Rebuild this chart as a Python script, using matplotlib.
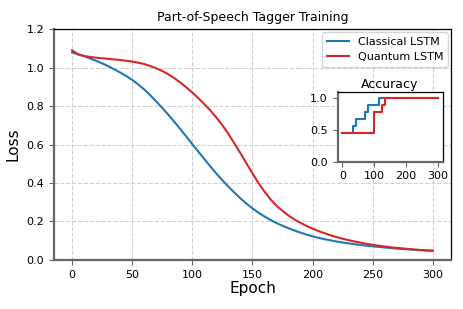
import matplotlib
matplotlib.use("Agg")
import matplotlib.pyplot as plt

epochs = list(range(0, 301, 5))
classical_loss = [1.078, 1.069, 1.059, 1.047, 1.035, 1.022, 1.007, 0.991, 0.974, 0.956,
                  0.936, 0.912, 0.886, 0.856, 0.824, 0.790, 0.755, 0.718, 0.680, 0.641,
                  0.602, 0.563, 0.524, 0.486, 0.449, 0.414, 0.381, 0.350, 0.320, 0.293,
                  0.268, 0.246, 0.226, 0.208, 0.192, 0.178, 0.165, 0.153, 0.142, 0.132,
                  0.123, 0.115, 0.108, 0.102, 0.096, 0.091, 0.086, 0.082, 0.078, 0.074,
                  0.071, 0.068, 0.065, 0.062, 0.059, 0.057, 0.055, 0.053, 0.051, 0.049,
                  0.048]
quantum_loss = [1.090, 1.068, 1.060, 1.055, 1.051, 1.048, 1.045, 1.042, 1.039, 1.035,
                1.031, 1.025, 1.018, 1.008, 0.996, 0.982, 0.965, 0.945, 0.922, 0.897,
                0.870, 0.841, 0.810, 0.777, 0.740, 0.700, 0.655, 0.605, 0.555, 0.502,
                0.450, 0.400, 0.355, 0.315, 0.282, 0.255, 0.231, 0.210, 0.193, 0.177,
                0.163, 0.150, 0.139, 0.128, 0.119, 0.110, 0.103, 0.096, 0.090, 0.084,
                0.079, 0.074, 0.070, 0.066, 0.063, 0.060, 0.057, 0.054, 0.052, 0.050,
                0.048]

# accuracy change points (step, held until next epoch)
acc_epochs_c = [0, 35, 43, 72, 80, 114, 300]
acc_classical = [0.444, 0.556, 0.667, 0.778, 0.889, 1.0, 1.0]
acc_epochs_q = [0, 99, 125, 134, 300]
acc_quantum = [0.444, 0.778, 0.889, 1.0, 1.0]

blue = "#1f77b4"
red = "#d62728"


def style_spines(ax):
    for s in ("left", "bottom"):
        ax.spines[s].set_color("#666666")
        ax.spines[s].set_linewidth(1.6)
    for s in ("top", "right"):
        ax.spines[s].set_color("black")
        ax.spines[s].set_linewidth(0.9)
    ax.tick_params(color="#666666", labelsize=8)


fig = plt.figure(figsize=(4.63, 3.09), dpi=100)
ax = fig.add_axes([0.1166, 0.1586, 0.8574, 0.7475])
ax.plot(epochs, classical_loss, color=blue, lw=1.5, label="Classical LSTM")
ax.plot(epochs, quantum_loss, color=red, lw=1.5, label="Quantum LSTM")
ax.set_ylim(0, 1.2)
ax.set_xticks([0, 50, 100, 150, 200, 250, 300])
ax.grid(True, ls="--", color="#d0d0d0", lw=0.8)
ax.set_axisbelow(True)
ax.set_title("Part-of-Speech Tagger Training", fontsize=9)
ax.set_xlabel("Epoch", fontsize=11, labelpad=1)
ax.set_ylabel("Loss", fontsize=11)
style_spines(ax)
ax.legend(loc="upper right", fontsize=8, borderaxespad=0.3, handlelength=2.0)

ins = fig.add_axes([0.729, 0.4767, 0.227, 0.2265])
ins.step(acc_epochs_c, acc_classical, where="post", color=blue, lw=1.5)
ins.step(acc_epochs_q, acc_quantum, where="post", color=red, lw=1.5)
ins.set_ylim(0, 1.1)
ins.set_yticks([0.0, 0.5, 1.0])
ins.set_xticks([0, 100, 200, 300])
ins.set_title("Accuracy", fontsize=9, pad=3)
style_spines(ins)

fig.savefig("out.png", dpi=100)
